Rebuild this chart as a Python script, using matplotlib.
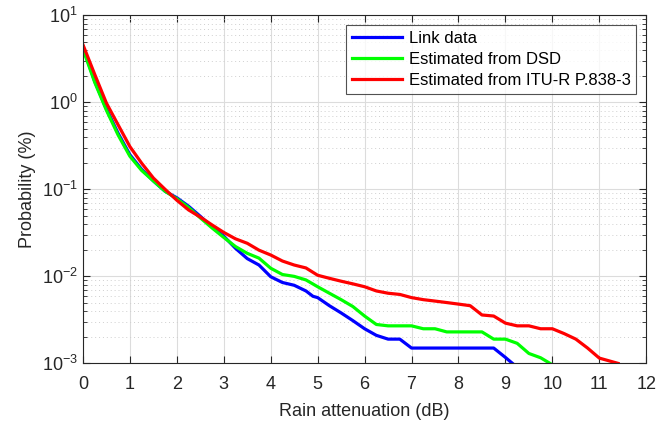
import numpy as np
import matplotlib
matplotlib.use('Agg')
import matplotlib.pyplot as plt
from matplotlib.ticker import LogLocator, NullFormatter, MultipleLocator

plt.rcParams['font.family'] = ['Liberation Sans', 'DejaVu Sans']
plt.rcParams['mathtext.default'] = 'regular'

# 链路数据
x_link = [0, 0.25, 0.5, 0.75, 1, 1.25, 1.5, 1.75, 2, 2.25, 2.5, 2.75, 3, 3.25, 3.5, 3.75,
          4, 4.25, 4.5, 4.75, 4.9, 5, 5.25, 5.5, 5.75, 6, 6.25, 6.5, 6.75, 7, 8.75, 9, 9.15]
p_link = [4.3, 1.75, 0.84, 0.44, 0.25, 0.17, 0.125, 0.095, 0.08, 0.064, 0.049, 0.037, 0.029,
          0.021, 0.016, 0.0135, 0.0099, 0.0085, 0.0079, 0.0068, 0.0059, 0.0057, 0.0046, 0.0038,
          0.0031, 0.0025, 0.0021, 0.0019, 0.0019, 0.0015, 0.0015, 0.00117, 0.001]

# DSD估计
x_dsd = [0, 0.25, 0.5, 0.75, 1, 1.25, 1.5, 1.75, 2, 2.25, 2.5, 2.75, 3, 3.25, 3.5, 3.75,
         4, 4.25, 4.5, 4.75, 5, 5.25, 5.5, 5.75, 6, 6.25, 6.5, 7, 7.25, 7.5, 7.75, 8.5,
         8.75, 9, 9.25, 9.5, 9.75, 9.95]
p_dsd = [4.1, 1.7, 0.81, 0.42, 0.24, 0.165, 0.125, 0.095, 0.078, 0.062, 0.047, 0.036, 0.028,
         0.022, 0.0184, 0.0162, 0.0124, 0.0105, 0.0100, 0.0091, 0.0076, 0.0064, 0.0054, 0.0045,
         0.0035, 0.0028, 0.0027, 0.0027, 0.0025, 0.0025, 0.0023, 0.0023, 0.0019, 0.0019,
         0.0017, 0.0013, 0.00116, 0.001]

# ITU-R P.838-3 估计
x_itu = [0, 0.25, 0.5, 0.75, 1, 1.25, 1.5, 1.75, 2, 2.25, 2.5, 2.75, 3, 3.25, 3.5, 3.75,
         4, 4.25, 4.5, 4.75, 5, 5.25, 5.5, 5.75, 6, 6.25, 6.5, 6.75, 7, 7.25, 7.5, 7.75,
         8, 8.25, 8.5, 8.75, 9, 9.25, 9.5, 9.75, 10, 10.25, 10.5, 10.75, 11, 11.4]
p_itu = [4.6, 2.1, 0.98, 0.55, 0.31, 0.2, 0.135, 0.1, 0.075, 0.058, 0.048, 0.039, 0.032,
         0.027, 0.024, 0.020, 0.0176, 0.0150, 0.0135, 0.0125, 0.0103, 0.0095, 0.0088, 0.0082,
         0.0076, 0.0068, 0.0064, 0.0062, 0.0057, 0.0054, 0.0052, 0.0050, 0.0048, 0.0046,
         0.0036, 0.0035, 0.0029, 0.0027, 0.0027, 0.0025, 0.0025, 0.0022, 0.0019, 0.0015,
         0.00115, 0.001]

fig = plt.figure(figsize=(6.69, 4.26), dpi=100)
ax = fig.add_axes([0.124, 0.147, 0.842, 0.817])

ax.semilogy(x_link, p_link, color='#0000ff', lw=2.3, label='Link data')
ax.semilogy(x_dsd, p_dsd, color='#00ff00', lw=2.3, label='Estimated from DSD')
ax.semilogy(x_itu, p_itu, color='#ff0000', lw=2.3, label='Estimated from ITU-R P.838-3')

ax.set_xlim(0, 12)
ax.set_ylim(1e-3, 1e1)
ax.xaxis.set_major_locator(MultipleLocator(1))
ax.yaxis.set_major_locator(LogLocator(base=10, numticks=10))
ax.yaxis.set_minor_locator(LogLocator(base=10, subs=np.arange(2, 10), numticks=10))
ax.yaxis.set_minor_formatter(NullFormatter())

ax.grid(True, which='major', color='#dcdcdc', lw=0.8)
ax.grid(True, which='minor', axis='y', color='#cfcfcf', lw=0.7, ls=(0, (1, 3)))
ax.set_axisbelow(True)

ax.tick_params(which='both', direction='in', top=True, right=True, colors='#262626',
               labelsize=13, labelcolor='#262626')
ax.tick_params(which='major', length=5)
ax.tick_params(which='minor', length=3)
ax.tick_params(axis='x', which='major', pad=9)
for s in ax.spines.values():
    s.set_color('#262626')
    s.set_linewidth(0.8)

ax.set_xlabel('Rain attenuation (dB)', fontsize=13, color='#262626', labelpad=7)
ax.set_ylabel('Probability (%)', fontsize=13, color='#262626')

leg = ax.legend(loc='upper right', fontsize=12, handlelength=3.0, frameon=True, fancybox=False,
                borderaxespad=0.6, labelspacing=0.35, borderpad=0.35, handletextpad=0.4)
leg.get_frame().set_edgecolor('#262626')
leg.get_frame().set_linewidth(0.8)

fig.savefig('out.png', dpi=100)
